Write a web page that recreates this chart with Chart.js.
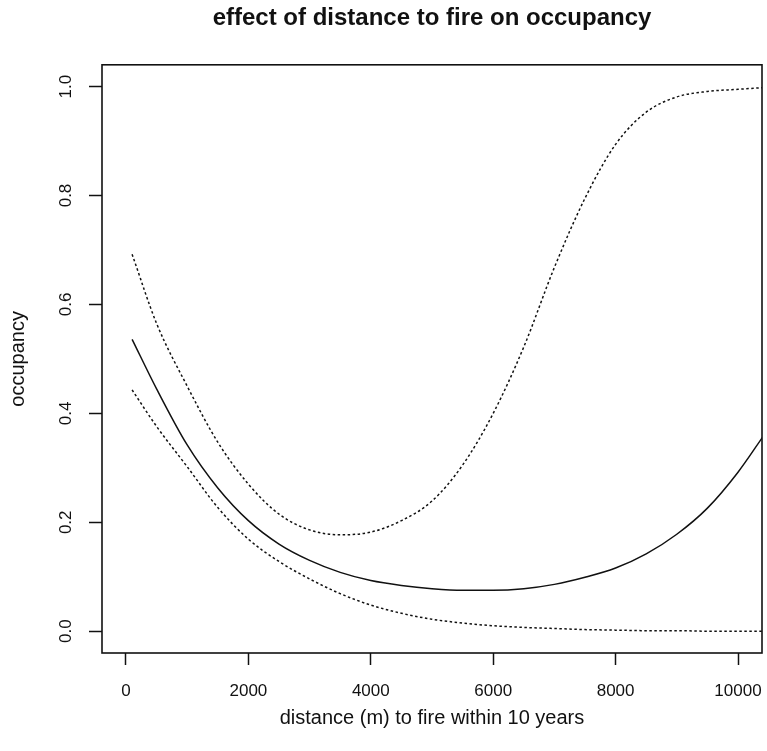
<!DOCTYPE html>
<html>
<head>
<meta charset="utf-8">
<script src="https://cdn.jsdelivr.net/npm/chart.js@4.4.1/dist/chart.umd.min.js"></script>
<style>
  html, body { margin: 0; padding: 0; background: #fff; }
  #wrap { width: 767px; height: 751px; }
</style>
</head>
<body>
<div id="wrap"><canvas id="c" width="767" height="751"></canvas></div>
<script>
// distance (m) to fire within 10 years
const distance = [100, 500, 1000, 1500, 2000, 2500, 3000, 3500, 4000, 4500, 5000,
                  5500, 6000, 6500, 7000, 7500, 8000, 8500, 9000, 9500, 10000, 10400];
// fitted occupancy
const fitted = [0.536, 0.445, 0.342, 0.263, 0.203, 0.160, 0.130, 0.108, 0.093, 0.084, 0.078,
                0.075, 0.075, 0.078, 0.086, 0.099, 0.116, 0.142, 0.178, 0.226, 0.292, 0.356];
// upper confidence bound
const upper = [0.692, 0.565, 0.450, 0.347, 0.270, 0.215, 0.186, 0.177, 0.182, 0.203, 0.239,
               0.305, 0.400, 0.522, 0.668, 0.795, 0.894, 0.953, 0.981, 0.991, 0.995, 0.998];
// lower confidence bound
const lower = [0.443, 0.376, 0.302, 0.227, 0.169, 0.128, 0.096, 0.069, 0.048, 0.033, 0.022,
               0.015, 0.010, 0.007, 0.005, 0.003, 0.002, 0.001, 0.001, 0.000, 0.000, 0.000];
const xTicks = [0, 2000, 4000, 6000, 8000, 10000];
const yTicks = [0.0, 0.2, 0.4, 0.6, 0.8, 1.0];

const FONT = '"Liberation Sans", Arial, Helvetica, sans-serif';
const toPts = (ys) => distance.map((d, i) => ({ x: d, y: ys[i] }));

const boxPlugin = {
  id: 'rbox',
  afterDraw(chart) {
    const { ctx, chartArea: a } = chart;
    ctx.save();
    ctx.strokeStyle = '#111';
    ctx.lineWidth = 1.6;
    ctx.strokeRect(a.left, a.top, a.right - a.left, a.bottom - a.top);
    // rotated y tick labels (R style, las = 0)
    const ys = chart.scales.y;
    ctx.fillStyle = '#111';
    ctx.font = '17px ' + FONT;
    ctx.textAlign = 'center';
    ctx.textBaseline = 'middle';
    yTicks.forEach(v => {
      const py = ys.getPixelForValue(v);
      ctx.save();
      ctx.translate(66, py);
      ctx.rotate(-Math.PI / 2);
      ctx.fillText(v.toFixed(1), 0, 0);
      ctx.restore();
    });
    ctx.restore();
  }
};

const lineStyle = { borderColor: '#111', borderWidth: 1.5, pointRadius: 0,
                    cubicInterpolationMode: 'monotone', fill: false };

new Chart(document.getElementById('c'), {
  type: 'line',
  data: {
    datasets: [
      Object.assign({ label: 'fitted', data: toPts(fitted) }, lineStyle),
      Object.assign({ label: 'upper', data: toPts(upper), borderDash: [2.5, 2.5] }, lineStyle),
      Object.assign({ label: 'lower', data: toPts(lower), borderDash: [2.5, 2.5] }, lineStyle)
    ]
  },
  options: {
    responsive: false,
    animation: false,
    events: [],
    layout: { padding: { left: 0, right: 5, top: 0, bottom: 0 } },
    plugins: {
      legend: { display: false },
      tooltip: { enabled: false },
      title: {
        display: true,
        fullSize: false,
        text: 'effect of distance to fire on occupancy',
        color: '#111',
        font: { family: FONT, size: 24, weight: 'bold', lineHeight: 1.2 },
        padding: { top: 4, bottom: 32 }
      }
    },
    scales: {
      x: {
        type: 'linear',
        min: -392, max: 10392,
        afterFit(s) { s.height = 98; s.paddingLeft = 0; s.paddingRight = 0; },
        afterBuildTicks(s) { s.ticks = xTicks.map(v => ({ value: v })); },
        grid: { display: true, drawOnChartArea: false, drawTicks: true, tickLength: 12,
                tickColor: '#111', tickWidth: 1.5 },
        border: { display: false },
        ticks: { color: '#111', font: { family: FONT, size: 17 }, padding: 16, maxRotation: 0,
                 callback: (v) => String(v) },
        title: { display: true, text: 'distance (m) to fire within 10 years', color: '#111',
                 font: { family: FONT, size: 20, lineHeight: 1.2 }, padding: { top: 0, bottom: 21 } }
      },
      y: {
        type: 'linear',
        min: -0.04, max: 1.04,
        afterFit(s) { s.width = 102; s.paddingTop = 0; s.paddingBottom = 0; },
        afterBuildTicks(s) { s.ticks = yTicks.map(v => ({ value: v })); },
        grid: { display: true, drawOnChartArea: false, drawTicks: true, tickLength: 13,
                tickColor: '#111', tickWidth: 1.5 },
        border: { display: false },
        ticks: { display: true, color: 'rgba(0,0,0,0)', font: { family: FONT, size: 17 },
                 callback: (v) => Number(v).toFixed(1) },
        title: { display: true, text: 'occupancy', color: '#111',
                 font: { family: FONT, size: 20, lineHeight: 1.2 }, padding: { top: 6, bottom: 0 } }
      }
    }
  },
  plugins: [boxPlugin]
});
</script>
</body>
</html>
